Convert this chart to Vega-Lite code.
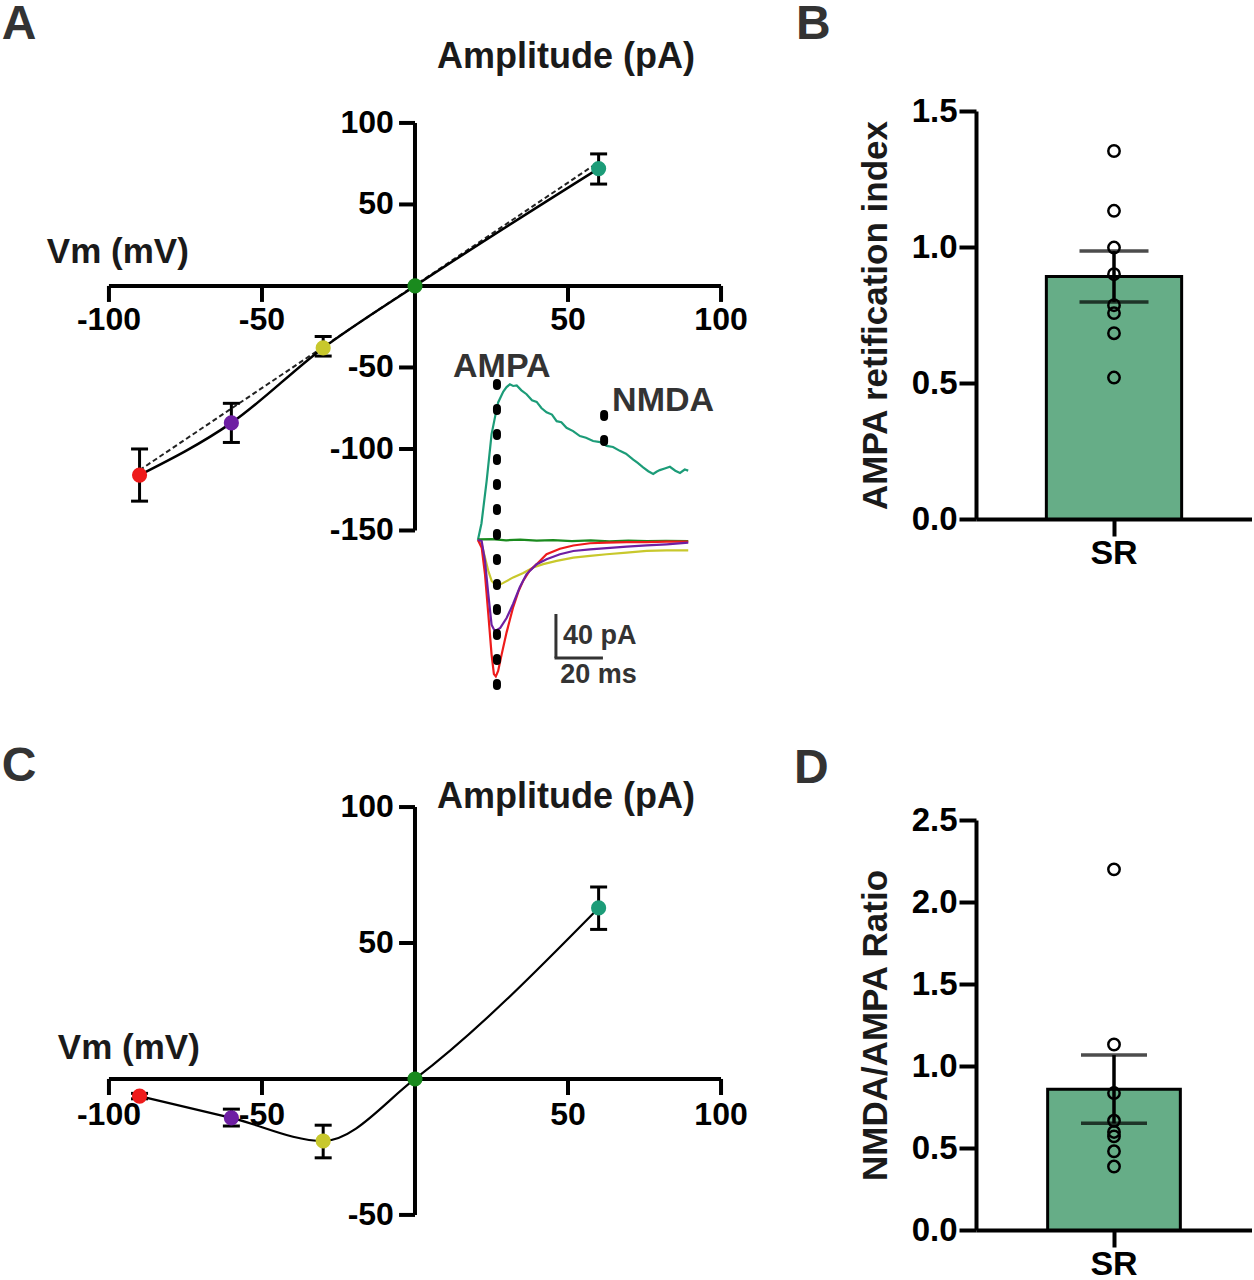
{
  "$schema": "https://vega.github.io/schema/vega-lite/v6.json",
  "padding": 0,
  "background": "white",
  "spacing": 24,
  "config": {
    "font": "Liberation Sans",
    "view": {"stroke": null},
    "axis": {"labelFont": "Liberation Sans", "titleFont": "Liberation Sans", "grid": false, "labelColor": "black", "titleColor": "#1a1a1a", "labelFontWeight": "bold", "titleFontWeight": "bold", "domainColor": "black", "tickColor": "black", "labelFlush": false, "labelOverlap": false},
    "title": {"font": "Liberation Sans"},
    "text": {"font": "Liberation Sans"}
  },
  "datasets": {
    "ivA": [
      {"step": "-90", "vm": -90, "amp": -116, "lo": -132, "hi": -100},
      {"step": "-60", "vm": -60, "amp": -84, "lo": -96, "hi": -72},
      {"step": "-30", "vm": -30, "amp": -38, "lo": -43, "hi": -31},
      {"step": "0", "vm": 0, "amp": 0, "lo": 0, "hi": 0},
      {"step": "60", "vm": 60, "amp": 72, "lo": 62.5, "hi": 81}
    ],
    "fitA": [
      {"vm": -90, "amp": -113},
      {"vm": 60, "amp": 76}
    ],
    "ivC": [
      {"step": "-90", "vm": -90, "amp": -6.3, "lo": -7.3, "hi": -5.3},
      {"step": "-60", "vm": -60, "amp": -14.3, "lo": -17.3, "hi": -11.1},
      {"step": "-30", "vm": -30, "amp": -22.8, "lo": -29, "hi": -17},
      {"step": "0", "vm": 0, "amp": 0, "lo": 0, "hi": 0},
      {"step": "60", "vm": 60, "amp": 62.9, "lo": 55, "hi": 70.6}
    ],
    "xticks": [
      {"v": -100, "lab": "-100"}, {"v": -50, "lab": "-50"}, {"v": 50, "lab": "50"}, {"v": 100, "lab": "100"}
    ],
    "yticksA": [
      {"v": -150, "lab": "-150"}, {"v": -100, "lab": "-100"}, {"v": -50, "lab": "-50"}, {"v": 50, "lab": "50"}, {"v": 100, "lab": "100"}
    ],
    "yticksC": [
      {"v": -50, "lab": "-50"}, {"v": 50, "lab": "50"}, {"v": 100, "lab": "100"}
    ],
    "traces": [
      {"step": "60", "t": 0, "i": 0}, {"step": "60", "t": 1.5, "i": 15}, {"step": "60", "t": 3.7, "i": 53.6}, {"step": "60", "t": 5.8, "i": 96}, {"step": "60", "t": 7.2, "i": 111}, {"step": "60", "t": 8.6, "i": 125}, {"step": "60", "t": 10.8, "i": 135}, {"step": "60", "t": 12.2, "i": 139}, {"step": "60", "t": 13.6, "i": 141.5}, {"step": "60", "t": 15, "i": 140}, {"step": "60", "t": 16.5, "i": 140.5}, {"step": "60", "t": 18.5, "i": 136}, {"step": "60", "t": 20.7, "i": 132.5}, {"step": "60", "t": 23, "i": 127}, {"step": "60", "t": 25, "i": 125.5}, {"step": "60", "t": 27, "i": 120}, {"step": "60", "t": 29.2, "i": 116}, {"step": "60", "t": 31.5, "i": 114}, {"step": "60", "t": 33.5, "i": 108}, {"step": "60", "t": 35.5, "i": 107}, {"step": "60", "t": 37.7, "i": 102}, {"step": "60", "t": 40.5, "i": 99}, {"step": "60", "t": 43.4, "i": 94.5}, {"step": "60", "t": 46, "i": 93}, {"step": "60", "t": 49, "i": 90}, {"step": "60", "t": 52, "i": 89}, {"step": "60", "t": 54.8, "i": 85.5}, {"step": "60", "t": 57.5, "i": 84.5}, {"step": "60", "t": 60.4, "i": 81}, {"step": "60", "t": 63, "i": 78.5}, {"step": "60", "t": 66.1, "i": 73}, {"step": "60", "t": 68, "i": 70}, {"step": "60", "t": 70.3, "i": 66}, {"step": "60", "t": 72.5, "i": 62.5}, {"step": "60", "t": 74.6, "i": 60}, {"step": "60", "t": 76, "i": 62}, {"step": "60", "t": 77.4, "i": 63.5}, {"step": "60", "t": 79.5, "i": 65}, {"step": "60", "t": 81.7, "i": 66.5}, {"step": "60", "t": 84, "i": 63}, {"step": "60", "t": 86, "i": 61}, {"step": "60", "t": 88, "i": 64}, {"step": "60", "t": 89.5, "i": 63},
      {"step": "0", "t": 0, "i": 0.5}, {"step": "0", "t": 6, "i": 0.8}, {"step": "0", "t": 12, "i": -0.3}, {"step": "0", "t": 18, "i": 0.4}, {"step": "0", "t": 25, "i": -0.6}, {"step": "0", "t": 32, "i": -0.2}, {"step": "0", "t": 40, "i": -1}, {"step": "0", "t": 48, "i": -0.4}, {"step": "0", "t": 56, "i": -1.2}, {"step": "0", "t": 64, "i": -0.6}, {"step": "0", "t": 72, "i": -1.1}, {"step": "0", "t": 80, "i": -0.7}, {"step": "0", "t": 89.5, "i": -1},
      {"step": "-30", "t": 0, "i": 0}, {"step": "-30", "t": 1.6, "i": -4}, {"step": "-30", "t": 3, "i": -16}, {"step": "-30", "t": 4.4, "i": -28}, {"step": "-30", "t": 5.8, "i": -37}, {"step": "-30", "t": 7.9, "i": -42}, {"step": "-30", "t": 10.8, "i": -39}, {"step": "-30", "t": 15, "i": -34}, {"step": "-30", "t": 19.3, "i": -30}, {"step": "-30", "t": 23.5, "i": -25}, {"step": "-30", "t": 27.8, "i": -22}, {"step": "-30", "t": 33.5, "i": -19}, {"step": "-30", "t": 40.6, "i": -16}, {"step": "-30", "t": 47.7, "i": -14.5}, {"step": "-30", "t": 54.8, "i": -13}, {"step": "-30", "t": 63.3, "i": -11.5}, {"step": "-30", "t": 71.8, "i": -10}, {"step": "-30", "t": 80.3, "i": -9.4}, {"step": "-30", "t": 89.5, "i": -9.4},
      {"step": "-90", "t": 0, "i": 0}, {"step": "-90", "t": 1.6, "i": -7}, {"step": "-90", "t": 3, "i": -31}, {"step": "-90", "t": 4.4, "i": -67}, {"step": "-90", "t": 5.8, "i": -104}, {"step": "-90", "t": 6.8, "i": -122}, {"step": "-90", "t": 7.6, "i": -124}, {"step": "-90", "t": 8.6, "i": -119}, {"step": "-90", "t": 10.1, "i": -104}, {"step": "-90", "t": 12.2, "i": -84}, {"step": "-90", "t": 15, "i": -61}, {"step": "-90", "t": 17.2, "i": -47}, {"step": "-90", "t": 19.3, "i": -37}, {"step": "-90", "t": 22, "i": -28}, {"step": "-90", "t": 25, "i": -22}, {"step": "-90", "t": 29.2, "i": -13}, {"step": "-90", "t": 34.9, "i": -8}, {"step": "-90", "t": 40.6, "i": -5}, {"step": "-90", "t": 47.7, "i": -3}, {"step": "-90", "t": 54.8, "i": -2.5}, {"step": "-90", "t": 63.3, "i": -2}, {"step": "-90", "t": 71.8, "i": -2}, {"step": "-90", "t": 80.3, "i": -1.5}, {"step": "-90", "t": 89.5, "i": -1.5},
      {"step": "-60", "t": 0, "i": 0}, {"step": "-60", "t": 1.6, "i": -1}, {"step": "-60", "t": 3, "i": -19}, {"step": "-60", "t": 4.4, "i": -49}, {"step": "-60", "t": 5.8, "i": -77}, {"step": "-60", "t": 7.2, "i": -83}, {"step": "-60", "t": 9.5, "i": -80}, {"step": "-60", "t": 12.2, "i": -71}, {"step": "-60", "t": 15, "i": -58}, {"step": "-60", "t": 17.8, "i": -43}, {"step": "-60", "t": 20.7, "i": -31}, {"step": "-60", "t": 25, "i": -22}, {"step": "-60", "t": 29.2, "i": -17.5}, {"step": "-60", "t": 34.9, "i": -13}, {"step": "-60", "t": 40.6, "i": -10}, {"step": "-60", "t": 47.7, "i": -8.5}, {"step": "-60", "t": 54.8, "i": -7.5}, {"step": "-60", "t": 63.3, "i": -6}, {"step": "-60", "t": 71.8, "i": -5}, {"step": "-60", "t": 80.3, "i": -4}, {"step": "-60", "t": 89.5, "i": -2.5}
    ],
    "ratioB": [
      {"region": "SR", "value": 1.353}, {"region": "SR", "value": 1.133}, {"region": "SR", "value": 0.998}, {"region": "SR", "value": 0.9},
      {"region": "SR", "value": 0.786}, {"region": "SR", "value": 0.757}, {"region": "SR", "value": 0.683}, {"region": "SR", "value": 0.52}
    ],
    "ratioD": [
      {"region": "SR", "value": 2.199}, {"region": "SR", "value": 1.131}, {"region": "SR", "value": 0.835}, {"region": "SR", "value": 0.666},
      {"region": "SR", "value": 0.598}, {"region": "SR", "value": 0.571}, {"region": "SR", "value": 0.48}, {"region": "SR", "value": 0.387}
    ]
  },
  "hconcat": [
    {
      "bounds": "flush",
      "spacing": 0,
      "vconcat": [
        {
          "width": 770,
          "height": 700,
          "resolve": {"scale": {"x": "independent", "y": "independent"}},
          "layer": [
            {
              "layer": [
                {
                  "data": {"values": [{"part": "x axis"}]},
                  "mark": {"type": "rule", "strokeWidth": 4, "color": "black"},
                  "encoding": {
                    "x": {"datum": -100, "type": "quantitative", "scale": {"domain": [-135.6, 116], "nice": false, "zero": false}, "axis": null},
                    "x2": {"datum": 100},
                    "y": {"datum": 0, "type": "quantitative", "scale": {"domain": [-254.6, 174.8], "nice": false, "zero": false}, "axis": null}
                  }
                },
                {
                  "data": {"values": [{"part": "y axis"}]},
                  "mark": {"type": "rule", "strokeWidth": 4, "color": "black"},
                  "encoding": {
                    "x": {"datum": 0, "type": "quantitative", "axis": null},
                    "y": {"datum": -150, "type": "quantitative", "axis": null},
                    "y2": {"datum": 100}
                  }
                },
                {
                  "data": {"name": "xticks"},
                  "layer": [
                    {
                      "mark": {"type": "rule", "strokeWidth": 4, "color": "black"},
                      "encoding": {"x": {"field": "v", "type": "quantitative", "axis": null}, "y": {"datum": 0, "type": "quantitative", "axis": null}, "y2": {"datum": -9.8}}
                    },
                    {
                      "mark": {"type": "text", "align": "center", "baseline": "top", "fontSize": 32, "fontWeight": "bold", "color": "black"},
                      "encoding": {"x": {"field": "v", "type": "quantitative", "axis": null}, "y": {"datum": -11.7, "type": "quantitative", "axis": null}, "text": {"field": "lab"}}
                    }
                  ]
                },
                {
                  "data": {"name": "yticksA"},
                  "layer": [
                    {
                      "mark": {"type": "rule", "strokeWidth": 4, "color": "black"},
                      "encoding": {"y": {"field": "v", "type": "quantitative", "axis": null}, "x": {"datum": 0, "type": "quantitative", "axis": null}, "x2": {"datum": -5.2}}
                    },
                    {
                      "mark": {"type": "text", "align": "right", "baseline": "middle", "fontSize": 32, "fontWeight": "bold", "color": "black"},
                      "encoding": {"y": {"field": "v", "type": "quantitative", "axis": null}, "x": {"datum": -6.9, "type": "quantitative", "axis": null}, "text": {"field": "lab"}}
                    }
                  ]
                },
                {
                  "data": {"name": "fitA"},
                  "mark": {"type": "line", "strokeWidth": 2, "strokeDash": [5, 3], "color": "#222"},
                  "encoding": {
                    "x": {"field": "vm", "type": "quantitative", "axis": null},
                    "y": {"field": "amp", "type": "quantitative", "axis": null}
                  }
                },
                {
                  "data": {"name": "ivA"},
                  "layer": [
                    {
                      "mark": {"type": "line", "strokeWidth": 2.5, "color": "black", "interpolate": "monotone"},
                      "encoding": {
                        "x": {"field": "vm", "type": "quantitative", "axis": null},
                        "y": {"field": "amp", "type": "quantitative", "axis": null}
                      }
                    },
                    {
                      "mark": {"type": "rule", "strokeWidth": 3, "color": "black"},
                      "encoding": {
                        "x": {"field": "vm", "type": "quantitative", "axis": null},
                        "y": {"field": "lo", "type": "quantitative", "axis": null},
                        "y2": {"field": "hi"}
                      }
                    },
                    {
                      "mark": {"type": "tick", "orient": "horizontal", "size": 17, "thickness": 3, "color": "black", "opacity": 1},
                      "encoding": {
                        "x": {"field": "vm", "type": "quantitative", "axis": null},
                        "y": {"field": "hi", "type": "quantitative", "axis": null}
                      }
                    },
                    {
                      "mark": {"type": "tick", "orient": "horizontal", "size": 17, "thickness": 3, "color": "black", "opacity": 1},
                      "encoding": {
                        "x": {"field": "vm", "type": "quantitative", "axis": null},
                        "y": {"field": "lo", "type": "quantitative", "axis": null}
                      }
                    },
                    {
                      "mark": {"type": "point", "filled": true, "size": 230, "opacity": 1, "shape": "circle"},
                      "encoding": {
                        "x": {"field": "vm", "type": "quantitative", "axis": null},
                        "y": {"field": "amp", "type": "quantitative", "axis": null},
                        "color": {"field": "step", "type": "nominal", "scale": {"domain": ["-90", "-60", "-30", "0", "60"], "range": ["#ee1b1b", "#6e1fa3", "#c8c82c", "#1a8a1e", "#1c9c78"]}, "legend": null}
                      }
                    }
                  ]
                },
                {
                  "data": {"values": [{"label": "A"}]},
                  "mark": {"type": "text", "align": "left", "baseline": "alphabetic", "fontSize": 48, "fontWeight": "bold", "color": "#333"},
                  "encoding": {"x": {"datum": -135, "type": "quantitative", "axis": null}, "y": {"datum": 151.5, "type": "quantitative", "axis": null}, "text": {"field": "label"}}
                },
                {
                  "data": {"values": [{"label": "Vm (mV)"}]},
                  "mark": {"type": "text", "align": "left", "baseline": "alphabetic", "fontSize": 35, "fontWeight": "bold", "color": "#1a1a1a"},
                  "encoding": {"x": {"datum": -120.3, "type": "quantitative", "axis": null}, "y": {"datum": 14.1, "type": "quantitative", "axis": null}, "text": {"field": "label"}}
                },
                {
                  "data": {"values": [{"label": "Amplitude (pA)"}]},
                  "mark": {"type": "text", "align": "left", "baseline": "alphabetic", "fontSize": 36, "fontWeight": "bold", "color": "#1a1a1a"},
                  "encoding": {"x": {"datum": 7.2, "type": "quantitative", "axis": null}, "y": {"datum": 133.7, "type": "quantitative", "axis": null}, "text": {"field": "label"}}
                }
              ]
            },
            {
              "layer": [
                {
                  "data": {"name": "traces"},
                  "mark": {"type": "line", "strokeWidth": 2.2},
                  "encoding": {
                    "x": {"field": "t", "type": "quantitative", "scale": {"domain": [-203.4, 124.3], "nice": false, "zero": false}, "axis": null},
                    "y": {"field": "i", "type": "quantitative", "scale": {"domain": [-146.4, 490], "nice": false, "zero": false}, "axis": null},
                    "color": {"field": "step", "type": "nominal", "scale": {"domain": ["-90", "-60", "-30", "0", "60"], "range": ["#ee1b1b", "#6e1fa3", "#c8c82c", "#1a8a1e", "#1c9c78"]}, "legend": null}
                  }
                },
                {
                  "data": {"values": [{"marker": "AMPA"}]},
                  "mark": {"type": "rule", "strokeWidth": 8, "strokeDash": [3, 22], "strokeCap": "round", "color": "black"},
                  "encoding": {"x": {"datum": 8.1, "type": "quantitative", "axis": null}, "y": {"datum": 142.7, "type": "quantitative", "axis": null}, "y2": {"datum": -139.1}}
                },
                {
                  "data": {"values": [{"marker": "NMDA"}]},
                  "mark": {"type": "rule", "strokeWidth": 8, "strokeDash": [3, 22], "strokeCap": "round", "color": "black"},
                  "encoding": {"x": {"datum": 53.7, "type": "quantitative", "axis": null}, "y": {"datum": 114.5, "type": "quantitative", "axis": null}, "y2": {"datum": 85.5}}
                },
                {
                  "data": {"values": [{"bar": "40 pA"}]},
                  "mark": {"type": "rule", "strokeWidth": 3, "color": "#333"},
                  "encoding": {"x": {"datum": 33.2, "type": "quantitative", "axis": null}, "y": {"datum": -67.3, "type": "quantitative", "axis": null}, "y2": {"datum": -107.3}}
                },
                {
                  "data": {"values": [{"bar": "20 ms"}]},
                  "mark": {"type": "rule", "strokeWidth": 3, "color": "#333"},
                  "encoding": {"x": {"datum": 32.6, "type": "quantitative", "axis": null}, "x2": {"datum": 53.2}, "y": {"datum": -107.3, "type": "quantitative", "axis": null}}
                },
                {
                  "data": {"values": [{"label": "AMPA"}]},
                  "mark": {"type": "text", "align": "left", "baseline": "alphabetic", "fontSize": 34, "fontWeight": "bold", "color": "#333"},
                  "encoding": {"x": {"datum": -10.6, "type": "quantitative", "axis": null}, "y": {"datum": 148, "type": "quantitative", "axis": null}, "text": {"field": "label"}}
                },
                {
                  "data": {"values": [{"label": "NMDA"}]},
                  "mark": {"type": "text", "align": "left", "baseline": "alphabetic", "fontSize": 34, "fontWeight": "bold", "color": "#333"},
                  "encoding": {"x": {"datum": 57.1, "type": "quantitative", "axis": null}, "y": {"datum": 117.3, "type": "quantitative", "axis": null}, "text": {"field": "label"}}
                },
                {
                  "data": {"values": [{"label": "40 pA"}]},
                  "mark": {"type": "text", "align": "left", "baseline": "alphabetic", "fontSize": 27, "fontWeight": "bold", "color": "#333"},
                  "encoding": {"x": {"datum": 36.2, "type": "quantitative", "axis": null}, "y": {"datum": -94.5, "type": "quantitative", "axis": null}, "text": {"field": "label"}}
                },
                {
                  "data": {"values": [{"label": "20 ms"}]},
                  "mark": {"type": "text", "align": "left", "baseline": "alphabetic", "fontSize": 27, "fontWeight": "bold", "color": "#333"},
                  "encoding": {"x": {"datum": 35, "type": "quantitative", "axis": null}, "y": {"datum": -130, "type": "quantitative", "axis": null}, "text": {"field": "label"}}
                }
              ]
            }
          ]
        },
        {
          "width": 770,
          "height": 580,
          "layer": [
            {
              "data": {"values": [{"part": "x axis"}]},
              "mark": {"type": "rule", "strokeWidth": 4, "color": "black"},
              "encoding": {
                "x": {"datum": -100, "type": "quantitative", "scale": {"domain": [-135.6, 116], "nice": false, "zero": false}, "axis": null},
                "x2": {"datum": 100},
                "y": {"datum": 0, "type": "quantitative", "scale": {"domain": [-74.3, 139], "nice": false, "zero": false}, "axis": null}
              }
            },
            {
              "data": {"values": [{"part": "y axis"}]},
              "mark": {"type": "rule", "strokeWidth": 4, "color": "black"},
              "encoding": {
                "x": {"datum": 0, "type": "quantitative", "axis": null},
                "y": {"datum": -50, "type": "quantitative", "axis": null},
                "y2": {"datum": 100}
              }
            },
            {
              "data": {"name": "xticks"},
              "layer": [
                {
                  "mark": {"type": "rule", "strokeWidth": 4, "color": "black"},
                  "encoding": {"x": {"field": "v", "type": "quantitative", "axis": null}, "y": {"datum": 0, "type": "quantitative", "axis": null}, "y2": {"datum": -5.9}}
                },
                {
                  "mark": {"type": "text", "align": "center", "baseline": "top", "fontSize": 32, "fontWeight": "bold", "color": "black"},
                  "encoding": {"x": {"field": "v", "type": "quantitative", "axis": null}, "y": {"datum": -7.7, "type": "quantitative", "axis": null}, "text": {"field": "lab"}}
                }
              ]
            },
            {
              "data": {"name": "yticksC"},
              "layer": [
                {
                  "mark": {"type": "rule", "strokeWidth": 4, "color": "black"},
                  "encoding": {"y": {"field": "v", "type": "quantitative", "axis": null}, "x": {"datum": 0, "type": "quantitative", "axis": null}, "x2": {"datum": -5.2}}
                },
                {
                  "mark": {"type": "text", "align": "right", "baseline": "middle", "fontSize": 32, "fontWeight": "bold", "color": "black"},
                  "encoding": {"y": {"field": "v", "type": "quantitative", "axis": null}, "x": {"datum": -6.9, "type": "quantitative", "axis": null}, "text": {"field": "lab"}}
                }
              ]
            },
            {
              "data": {"name": "ivC"},
              "layer": [
                {
                  "mark": {"type": "line", "strokeWidth": 2.2, "color": "black", "interpolate": "monotone"},
                  "encoding": {
                    "x": {"field": "vm", "type": "quantitative", "axis": null},
                    "y": {"field": "amp", "type": "quantitative", "axis": null}
                  }
                },
                {
                  "mark": {"type": "rule", "strokeWidth": 3, "color": "black"},
                  "encoding": {
                    "x": {"field": "vm", "type": "quantitative", "axis": null},
                    "y": {"field": "lo", "type": "quantitative", "axis": null},
                    "y2": {"field": "hi"}
                  }
                },
                {
                  "mark": {"type": "tick", "orient": "horizontal", "size": 17, "thickness": 3, "color": "black", "opacity": 1},
                  "encoding": {
                    "x": {"field": "vm", "type": "quantitative", "axis": null},
                    "y": {"field": "hi", "type": "quantitative", "axis": null}
                  }
                },
                {
                  "mark": {"type": "tick", "orient": "horizontal", "size": 17, "thickness": 3, "color": "black", "opacity": 1},
                  "encoding": {
                    "x": {"field": "vm", "type": "quantitative", "axis": null},
                    "y": {"field": "lo", "type": "quantitative", "axis": null}
                  }
                },
                {
                  "mark": {"type": "point", "filled": true, "size": 230, "opacity": 1, "shape": "circle"},
                  "encoding": {
                    "x": {"field": "vm", "type": "quantitative", "axis": null},
                    "y": {"field": "amp", "type": "quantitative", "axis": null},
                    "color": {"field": "step", "type": "nominal", "scale": {"domain": ["-90", "-60", "-30", "0", "60"], "range": ["#ee1b1b", "#6e1fa3", "#c8c82c", "#1a8a1e", "#1c9c78"]}, "legend": null}
                  }
                }
              ]
            },
            {
              "data": {"values": [{"label": "C"}]},
              "mark": {"type": "text", "align": "left", "baseline": "alphabetic", "fontSize": 48, "fontWeight": "bold", "color": "#333"},
              "encoding": {"x": {"datum": -135, "type": "quantitative", "axis": null}, "y": {"datum": 109.6, "type": "quantitative", "axis": null}, "text": {"field": "label"}}
            },
            {
              "data": {"values": [{"label": "Vm (mV)"}]},
              "mark": {"type": "text", "align": "left", "baseline": "alphabetic", "fontSize": 35, "fontWeight": "bold", "color": "#1a1a1a"},
              "encoding": {"x": {"datum": -116.7, "type": "quantitative", "axis": null}, "y": {"datum": 7.3, "type": "quantitative", "axis": null}, "text": {"field": "label"}}
            },
            {
              "data": {"values": [{"label": "Amplitude (pA)"}]},
              "mark": {"type": "text", "align": "left", "baseline": "alphabetic", "fontSize": 36, "fontWeight": "bold", "color": "#1a1a1a"},
              "encoding": {"x": {"datum": 7.2, "type": "quantitative", "axis": null}, "y": {"datum": 99.6, "type": "quantitative", "axis": null}, "text": {"field": "label"}}
            }
          ]
        }
      ]
    },
    {
      "bounds": "flush",
      "spacing": 0,
      "vconcat": [
        {
          "width": 276,
          "height": 110,
          "data": {"values": [{"panel": "B"}]},
          "mark": {"type": "point", "opacity": 0},
          "title": {"text": "B", "anchor": "start", "frame": "group", "orient": "top", "baseline": "alphabetic", "offset": -86, "dx": -180, "fontSize": 48, "fontWeight": "bold", "color": "#333"}
        },
        {
          "width": 276,
          "height": 408,
          "data": {"name": "ratioB"},
          "encoding": {
            "x": {"field": "region", "type": "nominal", "title": null, "scale": {"paddingInner": 0, "paddingOuter": 0.52},
              "axis": {"title": null, "labelAngle": 0, "domainWidth": 4, "tickSize": 17, "tickWidth": 4, "labelFontSize": 34, "labelPadding": 0}}
          },
          "layer": [
            {
              "mark": {"type": "bar", "fill": "#66ad87", "stroke": "black", "strokeWidth": 3},
              "encoding": {
                "y": {"aggregate": "mean", "field": "value", "type": "quantitative", "title": "AMPA retification index", "scale": {"domain": [0, 1.5], "nice": false},
                  "axis": {"values": [0, 0.5, 1, 1.5], "format": ".1f", "title": "AMPA retification index", "titleFontSize": 35, "titlePadding": 18, "domainWidth": 4, "tickSize": 17, "tickWidth": 4, "labelFontSize": 33, "labelPadding": 2}}
              }
            },
            {
              "mark": {"type": "errorbar", "extent": "stderr", "color": "black", "ticks": {"size": 69, "thickness": 3.5}, "rule": {"strokeWidth": 3.5}},
              "encoding": {"y": {"field": "value", "type": "quantitative", "title": "AMPA retification index"}}
            },
            {
              "mark": {"type": "point", "filled": false, "size": 130, "strokeWidth": 2.5, "color": "black", "opacity": 1},
              "encoding": {"y": {"field": "value", "type": "quantitative", "title": "AMPA retification index"}}
            }
          ]
        },
        {
          "width": 276,
          "height": 301,
          "data": {"values": [{"panel": "D"}]},
          "mark": {"type": "point", "opacity": 0},
          "title": {"text": "D", "anchor": "start", "frame": "group", "orient": "top", "baseline": "alphabetic", "offset": -312, "dx": -182, "fontSize": 48, "fontWeight": "bold", "color": "#333"}
        },
        {
          "width": 276,
          "height": 410,
          "data": {"name": "ratioD"},
          "encoding": {
            "x": {"field": "region", "type": "nominal", "title": null, "scale": {"paddingInner": 0, "paddingOuter": 0.54},
              "axis": {"title": null, "labelAngle": 0, "domainWidth": 4, "tickSize": 17, "tickWidth": 4, "labelFontSize": 34, "labelPadding": 0}}
          },
          "layer": [
            {
              "mark": {"type": "bar", "fill": "#66ad87", "stroke": "black", "strokeWidth": 3},
              "encoding": {
                "y": {"aggregate": "mean", "field": "value", "type": "quantitative", "title": "NMDA/AMPA Ratio", "scale": {"domain": [0, 2.5], "nice": false},
                  "axis": {"values": [0, 0.5, 1, 1.5, 2, 2.5], "format": ".1f", "title": "NMDA/AMPA Ratio", "titleFontSize": 35, "titlePadding": 18, "domainWidth": 4, "tickSize": 17, "tickWidth": 4, "labelFontSize": 33, "labelPadding": 2}}
              }
            },
            {
              "mark": {"type": "errorbar", "extent": "stderr", "color": "black", "ticks": {"size": 66, "thickness": 3.5}, "rule": {"strokeWidth": 3.5}},
              "encoding": {"y": {"field": "value", "type": "quantitative", "title": "NMDA/AMPA Ratio"}}
            },
            {
              "mark": {"type": "point", "filled": false, "size": 130, "strokeWidth": 2.5, "color": "black", "opacity": 1},
              "encoding": {"y": {"field": "value", "type": "quantitative", "title": "NMDA/AMPA Ratio"}}
            }
          ]
        }
      ]
    }
  ]
}
